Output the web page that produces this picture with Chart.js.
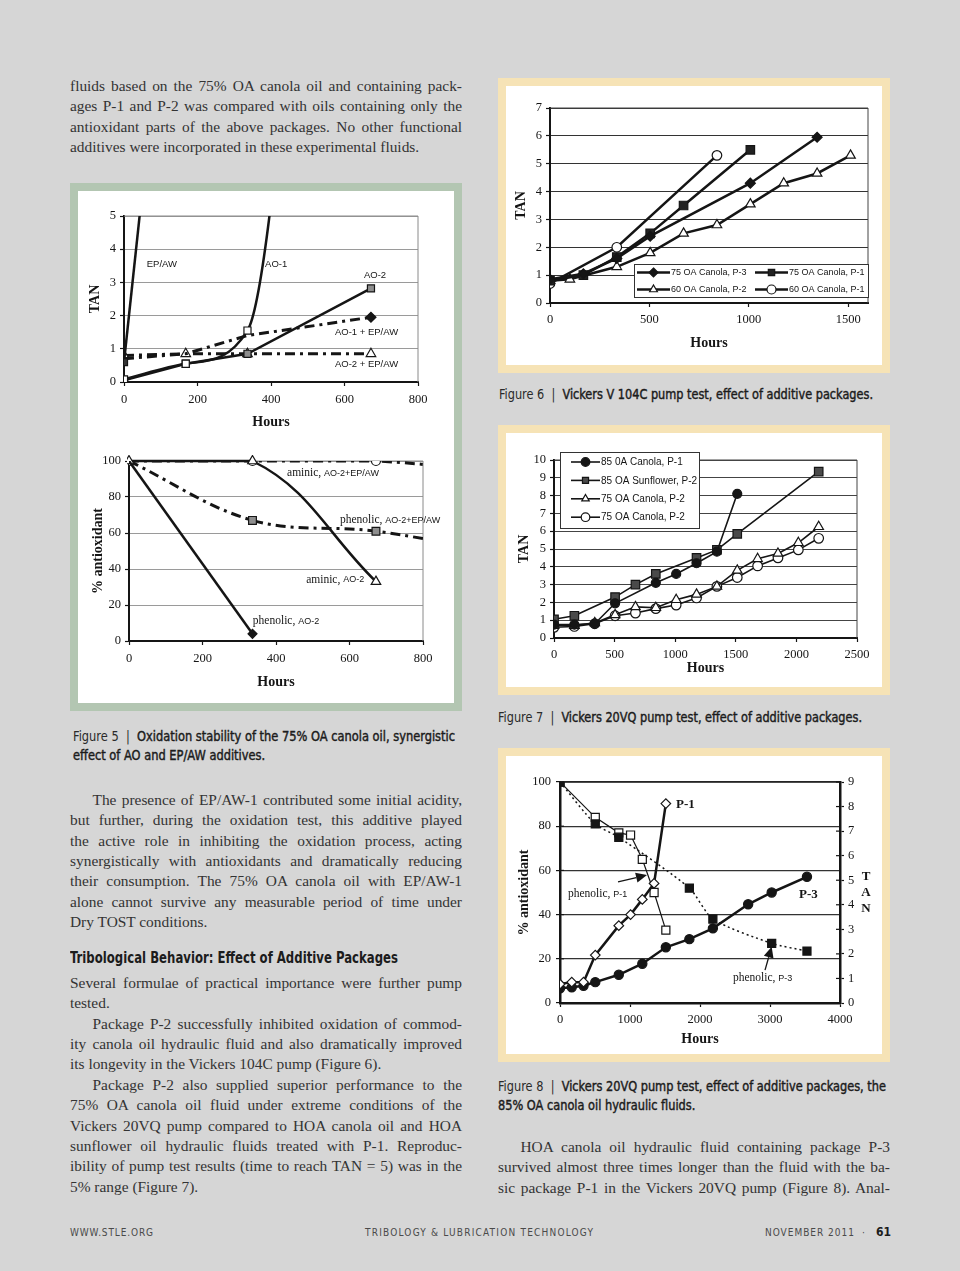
<!DOCTYPE html>
<html lang="en">
<head>
<meta charset="UTF-8">
<meta name="viewport" content="width=960">
<title>TLT November 2011, page 61</title>
<script src="https://cdn.jsdelivr.net/npm/chart.js"></script>
<style>
  body { margin: 0; width: 960px; height: 1271px; position: relative; overflow: hidden; background: #d6d6d6; color: #333; }
  .txt { position: absolute; width: 392px; font-family: "Liberation Serif", "Times New Roman", serif; font-size: 15.4px; }
  .txt div { height: 20.37px; line-height: 20.37px; white-space: nowrap; }
  .txt .in { padding-left: 22.5px; }
  .cap { position: absolute; font-family: "Liberation Sans Narrow", "DejaVu Sans Condensed", "Open Sans", sans-serif; font-size: 14.5px; line-height: 19px; color: #1c1c1c; font-weight: normal; -webkit-text-stroke: 0.45px #1c1c1c; white-space: nowrap; transform-origin: 0 0; }
  .cap span { -webkit-text-stroke: 0; color: #2a2a2a; }
  .head { position: absolute; left: 70px; top: 948px; font-family: "Liberation Sans Narrow", "DejaVu Sans Condensed", sans-serif; font-size: 15.5px; line-height: 20px; font-weight: bold; color: #1c1c1c; white-space: nowrap; transform-origin: 0 0; }
  .box { position: absolute; box-sizing: border-box; background: #fff; border: 8px solid; }
  .green { border-color: #b3c6b2; }
  .cream { border-color: #f6e3b6; }
  canvas { position: absolute; }
  .foot { position: absolute; top: 1226px; line-height: 14px; font-family: "Liberation Sans Narrow", "DejaVu Sans Condensed", sans-serif; font-size: 10px; color: #4a4a4a; white-space: nowrap; }
  .foot b { color: #1c1c1c; font-size: 12px; letter-spacing: 0; }
</style>
</head>
<body>

<div class="txt" style="left:70px; top:76px">
  <div class="j">fluids based on the 75% OA canola oil and containing pack-</div>
  <div class="j">ages P-1 and P-2 was compared with oils containing only the</div>
  <div class="j">antioxidant parts of the above packages. No other functional</div>
  <div>additives were incorporated in these experimental fluids.</div>
</div>

<div class="box green" style="left:70px; top:183px; width:392px; height:528px"></div>
<canvas id="fig5a" width="376" height="250" style="left:78px; top:191px"></canvas>
<canvas id="fig5b" width="376" height="262" style="left:78px; top:441px"></canvas>

<div class="cap" data-w="382" style="left:73px; top:727px"><span>Figure 5 &nbsp;|&nbsp; </span>Oxidation stability of the 75% OA canola oil, synergistic<br>effect of AO and EP/AW additives.</div>

<div class="txt" style="left:70px; top:790px">
  <div class="j in">The presence of EP/AW-1 contributed some initial acidity,</div>
  <div class="j">but further, during the oxidation test, this additive played</div>
  <div class="j">the active role in inhibiting the oxidation process, acting</div>
  <div class="j">synergistically with antioxidants and dramatically reducing</div>
  <div class="j">their consumption. The 75% OA canola oil with EP/AW-1</div>
  <div class="j">alone cannot survive any measurable period of time under</div>
  <div>Dry TOST conditions.</div>
</div>

<div class="head" data-w="328">Tribological Behavior: Effect of Additive Packages</div>

<div class="txt" style="left:70px; top:973px">
  <div class="j">Several formulae of practical importance were further pump</div>
  <div>tested.</div>
  <div class="j in">Package P-2 successfully inhibited oxidation of commod-</div>
  <div class="j">ity canola oil hydraulic fluid and also dramatically improved</div>
  <div>its longevity in the Vickers 104C pump (Figure 6).</div>
  <div class="j in">Package P-2 also supplied superior performance to the</div>
  <div class="j">75% OA canola oil fluid under extreme conditions of the</div>
  <div class="j">Vickers 20VQ pump compared to HOA canola oil and HOA</div>
  <div class="j">sunflower oil hydraulic fluids treated with P-1. Reproduc-</div>
  <div class="j">ibility of pump test results (time to reach TAN = 5) was in the</div>
  <div>5% range (Figure 7).</div>
</div>

<div class="box cream" style="left:498px; top:78px; width:392px; height:295px"></div>
<canvas id="fig6" width="376" height="279" style="left:506px; top:86px"></canvas>
<div class="cap" data-w="374" style="left:499px; top:385px"><span>Figure 6 &nbsp;|&nbsp; </span>Vickers V 104C pump test, effect of additive packages.</div>

<div class="box cream" style="left:498px; top:425px; width:392px; height:270px"></div>
<canvas id="fig7" width="376" height="254" style="left:506px; top:433px"></canvas>
<div class="cap" data-w="364" style="left:498px; top:708px"><span>Figure 7 &nbsp;|&nbsp; </span>Vickers 20VQ pump test, effect of additive packages.</div>

<div class="box cream" style="left:498px; top:748px; width:392px; height:314px"></div>
<canvas id="fig8" width="376" height="298" style="left:506px; top:756px"></canvas>
<div class="cap" data-w="388" style="left:498px; top:1077px"><span>Figure 8 &nbsp;|&nbsp; </span>Vickers 20VQ pump test, effect of additive packages, the<br>85% OA canola oil hydraulic fluids.</div>

<div class="txt" style="left:498px; top:1137px">
  <div class="j in">HOA canola oil hydraulic fluid containing package P-3</div>
  <div class="j">survived almost three times longer than the fluid with the ba-</div>
  <div class="j">sic package P-1 in the Vickers 20VQ pump (Figure 8). Anal-</div>
</div>

<div class="foot" data-ls="83" style="left:70px">WWW.STLE.ORG</div>
<div class="foot" data-ls="228" style="left:365px">TRIBOLOGY &amp; LUBRICATION TECHNOLOGY</div>
<div class="foot" data-ls="89" style="left:765px">NOVEMBER 2011</div>
<div class="foot" style="left:862px">&middot;</div>
<div class="foot" style="left:876px; top:1225px"><b>61</b></div>

<script>
// ---------- Figure 5, top: TAN vs hours ----------
const f5aXTicks = [0, 200, 400, 600, 800];
const f5aYTicks = [0, 1, 2, 3, 4, 5];
const f5aEpAwHours = [0, 168];
const f5aEpAwTan = [0.6, 18];
const f5aAo1Hours = [0, 168, 336, 504];
const f5aAo1Tan = [0.08, 0.55, 1.55, 16];
const f5aAo2Hours = [0, 168, 336, 672];
const f5aAo2Tan = [0.05, 0.55, 0.85, 2.82];
const f5aAo1EpHours = [0, 168, 336, 672];
const f5aAo1EpTan = [0.7, 0.85, 1.4, 1.95];
const f5aAo2EpHours = [0, 168, 336, 672];
const f5aAo2EpTan = [0.8, 0.85, 0.85, 0.85];

// ---------- Figure 5, bottom: % antioxidant vs hours ----------
const f5bXTicks = [0, 200, 400, 600, 800];
const f5bYTicks = [0, 20, 40, 60, 80, 100];
const f5bPhenAo2Hours = [0, 336];
const f5bPhenAo2 = [100, 4];
const f5bAminAo2Hours = [0, 336, 672];
const f5bAminAo2 = [100, 100, 33];
const f5bAminEpHours = [0, 336, 672, 1008];
const f5bAminEp = [100, 100, 100, 94];
const f5bPhenEpHours = [0, 336, 672, 1008];
const f5bPhenEp = [100, 67, 61, 49];

// ---------- Figure 6: Vickers V 104C ----------
const f6XTicks = [0, 500, 1000, 1500];
const f6YTicks = [0, 1, 2, 3, 4, 5, 6, 7];
const f6Labels = ['75 OA Canola, P-3', '75 OA Canola, P-1', '60 OA Canola, P-2', '60 OA Canola, P-1'];
const f6P3Hours = [0, 168, 336, 504, 1008, 1344];
const f6P3Tan = [0.85, 1.05, 1.6, 2.4, 4.3, 5.95];
const f6P1Hours = [0, 168, 336, 504, 672, 1008];
const f6P1Tan = [0.8, 1.0, 1.65, 2.5, 3.5, 5.5];
const f6P2Hours60 = [0, 100, 336, 504, 672, 840, 1008, 1176, 1344, 1512];
const f6P2Tan60 = [0.8, 0.85, 1.3, 1.8, 2.5, 2.8, 3.55, 4.3, 4.65, 5.3];
const f6P1Hours60 = [0, 336, 840];
const f6P1Tan60 = [0.7, 2.0, 5.3];

// ---------- Figure 7: Vickers 20VQ ----------
const f7XTicks = [0, 500, 1000, 1500, 2000, 2500];
const f7YTicks = [0, 1, 2, 3, 4, 5, 6, 7, 8, 9, 10];
const f7Labels = ['85 0A Canola, P-1', '85 OA Sunflower, P-2', '75 OA Canola, P-2', '75 OA Canola, P-2'];
const f7CanP1Hours = [0, 168, 336, 504, 840, 1008, 1176, 1344, 1512];
const f7CanP1Tan = [0.75, 0.75, 0.8, 1.95, 3.1, 3.6, 4.2, 4.85, 8.1];
const f7SunP2Hours = [0, 168, 504, 672, 840, 1176, 1344, 1512, 2184];
const f7SunP2Tan = [1.05, 1.25, 2.3, 3.0, 3.6, 4.5, 4.95, 5.85, 9.35];
const f7CanP2Hours = [0, 168, 336, 504, 672, 840, 1008, 1176, 1344, 1512, 1680, 1848, 2016, 2184];
const f7CanP2aTan = [0.7, 0.7, 0.85, 1.3, 1.75, 1.7, 2.15, 2.45, 2.9, 3.8, 4.45, 4.75, 5.35, 6.25];
const f7CanP2bTan = [0.6, 0.65, 0.8, 1.25, 1.4, 1.65, 1.85, 2.25, 2.9, 3.4, 4.05, 4.5, 4.95, 5.6];

// ---------- Figure 8: 85% OA canola, 20VQ ----------
const f8XTicks = [0, 1000, 2000, 3000, 4000];
const f8PctTicks = [0, 20, 40, 60, 80, 100];
const f8TanTicks = [0, 1, 2, 3, 4, 5, 6, 7, 8, 9];
const f8P1Hours = [0, 168, 336, 504, 840, 1008, 1176, 1344, 1512];
const f8P1Tan = [0.77, 0.85, 0.85, 1.95, 3.15, 3.6, 4.22, 4.87, 8.12];
const f8P3Hours = [0, 168, 336, 504, 840, 1176, 1512, 1848, 2184, 2688, 3024, 3528];
const f8P3Tan = [0.6, 0.64, 0.7, 0.85, 1.15, 1.6, 2.27, 2.6, 3.04, 4.02, 4.5, 5.14];
const f8PhenP1Hours = [0, 504, 840, 1008, 1176, 1344, 1512];
const f8PhenP1 = [100, 84, 77, 76, 65, 50, 33];
const f8PhenP3Hours = [0, 504, 840, 1848, 2184, 3024, 3528];
const f8PhenP3 = [100, 81, 75, 52, 38, 27, 23.5];

// ---------- helpers ----------
const SERIF = "'Liberation Serif', 'Times New Roman', serif";
const SANS = "'Liberation Sans', Arial, sans-serif";
const INK = '#151515';

function pts(hours, values) {
  return hours.map((h, i) => ({ x: h, y: values[i] }));
}

function series(label, hours, values, style) {
  return Object.assign({
    label: label,
    data: pts(hours, values),
    borderColor: INK,
    borderWidth: 2.5,
    pointStyle: 'circle',
    pointRadius: 4.5,
    pointBorderWidth: 1.2,
    pointBorderColor: INK,
    pointBackgroundColor: '#fff',
    tension: 0
  }, style);
}

// o: size (axis box), grid colour, tickPad, titlePad
function axis(position, min, max, ticks, title, o) {
  return {
    type: 'linear',
    position: position,
    min: min,
    max: max,
    afterBuildTicks: s => { s.ticks = ticks.map(v => ({ value: v })); },
    afterFit: s => { if (s.isHorizontal()) s.height = o.size; else s.width = o.size; },
    ticks: {
      color: INK, autoSkip: false, maxRotation: 0,
      padding: o.tickPad,
      font: { family: SERIF, size: o.fs || 12.5 },
      callback: v => String(v)
    },
    border: { color: INK, width: o.bw || 2 },
    grid: {
      drawOnChartArea: !!o.grid,
      color: o.grid || 'rgba(0,0,0,0)',
      lineWidth: o.gw || 1,
      tickLength: 4,
      tickColor: INK,
      tickWidth: 1.2
    },
    title: title ? {
      display: true, text: title, color: INK,
      font: { family: SERIF, size: 14, weight: 'bold' },
      padding: o.titlePad
    } : { display: false }
  };
}

function drawMark(ctx, style, x, y, r, fill, stroke, lw) {
  ctx.save();
  ctx.setLineDash([]);
  ctx.beginPath();
  if (style === 'rect') {
    const s = r * Math.SQRT1_2;
    ctx.rect(x - s, y - s, 2 * s, 2 * s);
  } else if (style === 'rectRot') {
    ctx.moveTo(x, y - r); ctx.lineTo(x + r, y); ctx.lineTo(x, y + r); ctx.lineTo(x - r, y);
    ctx.closePath();
  } else if (style === 'triangle') {
    for (let k = 0; k < 3; k++) {
      const t = k * 2 * Math.PI / 3;
      if (k) ctx.lineTo(x + Math.sin(t) * r, y - Math.cos(t) * r);
      else ctx.moveTo(x + Math.sin(t) * r, y - Math.cos(t) * r);
    }
    ctx.closePath();
  } else {
    ctx.arc(x, y, r, 0, Math.PI * 2);
  }
  ctx.fillStyle = fill; ctx.fill();
  ctx.lineWidth = lw; ctx.strokeStyle = stroke; ctx.stroke();
  ctx.restore();
}

// extra drawing per canvas: plot frame, notes, arrows, boxed legend
const extras = {};

const pagePlugin = {
  id: 'pagePlugin',
  beforeDatasetsDraw(chart) {
    const ex = extras[chart.canvas.id];
    if (!ex) return;
    const { ctx, chartArea: a } = chart;
    ctx.save();
    if (ex.frame) {
      ctx.strokeStyle = ex.frame; ctx.lineWidth = ex.frameW || 1;
      ctx.beginPath();
      ctx.moveTo(a.left, a.top); ctx.lineTo(a.right, a.top);
      if (ex.frameRight !== false) ctx.lineTo(a.right, a.bottom);
      ctx.stroke();
    }
    (ex.crossTicks || []).forEach(id => {
      const s = chart.scales[id];
      ctx.strokeStyle = INK; ctx.lineWidth = 1.2;
      s.ticks.forEach(t => {
        const p = s.getPixelForValue(t.value);
        ctx.beginPath();
        if (s.position === 'left') { ctx.moveTo(a.left, p); ctx.lineTo(a.left + 4, p); }
        else { ctx.moveTo(a.right - 4, p); ctx.lineTo(a.right, p); }
        ctx.stroke();
      });
    });
    ctx.restore();
  },
  afterDatasetsDraw(chart) {
    const ex = extras[chart.canvas.id];
    if (!ex) return;
    const { ctx, chartArea: a } = chart;
    ctx.save();
    ctx.fillStyle = INK;
    ctx.textBaseline = 'middle';
    (ex.notes || []).forEach(n => {
      let x = chart.scales.x.getPixelForValue(n.x);
      const y = chart.scales[n.axis || 'y'].getPixelForValue(n.y);
      n.parts.forEach(p => {
        ctx.font = p[1];
        ctx.fillText(p[0], x, y);
        x += ctx.measureText(p[0]).width;
      });
    });
    (ex.arrows || []).forEach(r => {
      const ys = chart.scales[r.axis || 'y'];
      const x1 = chart.scales.x.getPixelForValue(r.x1), y1 = ys.getPixelForValue(r.y1);
      const x2 = chart.scales.x.getPixelForValue(r.x2), y2 = ys.getPixelForValue(r.y2);
      const ang = Math.atan2(y2 - y1, x2 - x1), L = 11, W = 5;
      const bx = x2 - Math.cos(ang) * L, by = y2 - Math.sin(ang) * L;
      ctx.strokeStyle = INK; ctx.lineWidth = 1.3;
      ctx.beginPath(); ctx.moveTo(x1, y1); ctx.lineTo(bx, by); ctx.stroke();
      ctx.beginPath();
      ctx.moveTo(x2, y2);
      ctx.lineTo(bx + Math.sin(ang) * W, by - Math.cos(ang) * W);
      ctx.lineTo(bx - Math.sin(ang) * W, by + Math.cos(ang) * W);
      ctx.closePath(); ctx.fill();
    });
    if (ex.letters) {
      ctx.font = ex.letters.font; ctx.textAlign = 'center';
      ex.letters.text.forEach((c, i) => ctx.fillText(c, a.right + ex.letters.dx, a.top + ex.letters.dy + i * ex.letters.step));
      ctx.textAlign = 'left';
    }
    const lg = ex.legend;
    if (lg) {
      const bx = lg.anchor === 'br' ? a.right - lg.w - lg.dx : a.left + lg.dx;
      const by = lg.anchor === 'br' ? a.bottom - lg.h - lg.dy : a.top + lg.dy;
      ctx.fillStyle = '#fff'; ctx.fillRect(bx, by, lg.w, lg.h);
      ctx.strokeStyle = '#333'; ctx.lineWidth = 1; ctx.strokeRect(bx + 0.5, by + 0.5, lg.w, lg.h);
      ctx.font = lg.font;
      chart.data.datasets.forEach((ds, i) => {
        const col = i % lg.cols, row = Math.floor(i / lg.cols);
        const x0 = bx + lg.padX + col * lg.colW, y0 = by + lg.padY + row * lg.rowH;
        ctx.strokeStyle = ds.borderColor; ctx.lineWidth = ds.borderWidth;
        ctx.setLineDash(ds.borderDash || []);
        ctx.beginPath(); ctx.moveTo(x0, y0); ctx.lineTo(x0 + lg.lineLen, y0); ctx.stroke();
        ctx.setLineDash([]);
        drawMark(ctx, ds.pointStyle, x0 + lg.lineLen / 2, y0, lg.markR,
          ds.pointBackgroundColor, ds.pointBorderColor, ds.pointBorderWidth);
        ctx.fillStyle = INK;
        ctx.fillText(ds.label, x0 + lg.lineLen + 1, y0 + 0.5);
      });
    }
    ctx.restore();
  }
};
Chart.register(pagePlugin);

function makeChart(id, datasets, scales, pad) {
  return new Chart(document.getElementById(id), {
    type: 'line',
    data: { datasets: datasets },
    options: {
      responsive: false, animation: false, events: [], devicePixelRatio: 1,
      layout: { padding: pad },
      scales: scales,
      plugins: { legend: { display: false }, tooltip: { enabled: false } }
    }
  });
}

const DASH = [10, 5, 3, 5];
const LBL = '9.5px ' + SANS;

// ---------- Figure 5 top ----------
extras.fig5a = {
  frame: '#8a8a8a',
  notes: [
    { x: 62, y: 3.55, parts: [['EP/AW', LBL]] },
    { x: 384, y: 3.55, parts: [['AO-1', LBL]] },
    { x: 653, y: 3.22, parts: [['AO-2', LBL]] },
    { x: 574, y: 1.5, parts: [['AO-1 + EP/AW', LBL]] },
    { x: 574, y: 0.53, parts: [['AO-2 + EP/AW', LBL]] }
  ]
};
makeChart('fig5a', [
  series('AO-1', f5aAo1Hours, f5aAo1Tan, { pointStyle: 'rect', pointRadius: 5, cubicInterpolationMode: 'monotone' }),
  series('AO-2', f5aAo2Hours, f5aAo2Tan, { pointStyle: 'rect', pointRadius: 5, pointBackgroundColor: '#8e8e8e' }),
  series('EP/AW', f5aEpAwHours, f5aEpAwTan, { pointStyle: 'rect', pointRadius: [5, 0], pointBackgroundColor: '#333' }),
  series('AO-1 + EP/AW', f5aAo1EpHours, f5aAo1EpTan, { borderWidth: 3, borderDash: DASH, pointStyle: 'rectRot', pointRadius: [0, 0, 0, 5], pointBackgroundColor: INK }),
  series('AO-2 + EP/AW', f5aAo2EpHours, f5aAo2EpTan, { borderWidth: 3, borderDash: DASH, pointStyle: 'triangle', pointRadius: 5.5 })
], {
  x: axis('bottom', 0, 800, f5aXTicks, 'Hours', { size: 59, tickPad: 6, titlePad: { bottom: 10.6 } }),
  y: axis('left', 0, 5, f5aYTicks, 'TAN', { size: 40, tickPad: 4, titlePad: { top: 2.6 }, grid: '#9a9a9a' })
}, { left: 6, top: 25, right: 36, bottom: 0 });

// ---------- Figure 5 bottom ----------
const NOTE_SERIF = '11.5px ' + SERIF;
const NOTE_SMALL = '9px ' + SANS;
extras.fig5b = {
  frame: '#8a8a8a',
  notes: [
    { x: 430, y: 93.3, parts: [['aminic, ', NOTE_SERIF], ['AO-2+EP/AW', NOTE_SMALL]] },
    { x: 574, y: 67.2, parts: [['phenolic, ', NOTE_SERIF], ['AO-2+EP/AW', NOTE_SMALL]] },
    { x: 482, y: 33.9, parts: [['aminic, ', NOTE_SERIF], ['AO-2', NOTE_SMALL]] },
    { x: 337, y: 11.1, parts: [['phenolic, ', NOTE_SERIF], ['AO-2', NOTE_SMALL]] }
  ]
};
makeChart('fig5b', [
  series('phenolic, AO-2', f5bPhenAo2Hours, f5bPhenAo2, { pointStyle: 'rectRot', pointRadius: [0, 4.5], pointBackgroundColor: INK }),
  series('aminic, AO-2', f5bAminAo2Hours, f5bAminAo2, { pointStyle: 'triangle', pointRadius: 5.5, tension: 0.4, clip: { left: 2, top: 6, right: 2, bottom: 2 } }),
  series('aminic, AO-2+EP/AW', f5bAminEpHours, f5bAminEp, { borderWidth: 3, borderDash: DASH, pointRadius: 4.5, tension: 0.3 }),
  series('phenolic, AO-2+EP/AW', f5bPhenEpHours, f5bPhenEp, { borderWidth: 3, borderDash: DASH, pointStyle: 'rect', pointRadius: 5.5, pointBackgroundColor: '#8e8e8e', tension: 0.35 })
], {
  x: axis('bottom', 0, 800, f5bXTicks, 'Hours', { size: 62, tickPad: 6, titlePad: { bottom: 12.6 } }),
  y: axis('left', 0, 100, f5bYTicks, '% antioxidant', { size: 45, tickPad: 4, titlePad: { top: 5.6 }, grid: '#9a9a9a' })
}, { left: 6, top: 20, right: 31, bottom: 0 });

// ---------- Figure 6 ----------
extras.fig6 = {
  frame: '#444',
  legend: { anchor: 'br', dx: 0, dy: 6, w: 234, h: 33, cols: 2, colW: 118, rowH: 17, padX: 3, padY: 8.5, lineLen: 33, markR: 4.5, font: '9px ' + SANS }
};
makeChart('fig6', [
  series(f6Labels[0], f6P3Hours, f6P3Tan, { pointStyle: 'rectRot', pointRadius: 5, pointBackgroundColor: INK }),
  series(f6Labels[1], f6P1Hours, f6P1Tan, { pointStyle: 'rect', pointRadius: 6, pointBackgroundColor: '#222' }),
  series(f6Labels[2], f6P2Hours60, f6P2Tan60, { pointStyle: 'triangle', pointRadius: 5.5 }),
  series(f6Labels[3], f6P1Hours60, f6P1Tan60, { pointStyle: 'circle', pointRadius: 4.8 })
], {
  x: axis('bottom', 0, 1600, f6XTicks, 'Hours', { size: 62, tickPad: 5, titlePad: { bottom: 13.6 } }),
  y: axis('left', 0, 7, f6YTicks, 'TAN', { size: 40, tickPad: 4, titlePad: { top: 2.6 }, grid: '#333' })
}, { left: 4, top: 22, right: 14, bottom: 0 });

// ---------- Figure 7 ----------
extras.fig7 = {
  frame: '#444',
  legend: { anchor: 'tl', dx: 6, dy: -8, w: 139, h: 76, cols: 1, colW: 0, rowH: 18.4, padX: 11, padY: 10, lineLen: 29, markR: 4.3, font: '10px ' + SANS }
};
makeChart('fig7', [
  series(f7Labels[0], f7CanP1Hours, f7CanP1Tan, { borderWidth: 1.6, pointRadius: 4.5, pointBackgroundColor: INK }),
  series(f7Labels[1], f7SunP2Hours, f7SunP2Tan, { borderWidth: 1.6, pointStyle: 'rect', pointRadius: 6, pointBackgroundColor: '#4a4a4a' }),
  series(f7Labels[2], f7CanP2Hours, f7CanP2aTan, { borderWidth: 1.6, pointStyle: 'triangle', pointRadius: 5.5 }),
  series(f7Labels[3], f7CanP2Hours, f7CanP2bTan, { borderWidth: 1.6, pointRadius: 4.8 })
], {
  x: axis('bottom', 0, 2500, f7XTicks, 'Hours', { size: 49, tickPad: 5, titlePad: { bottom: 10.6 } }),
  y: axis('left', 0, 10, f7YTicks, 'TAN', { size: 44, tickPad: 4, titlePad: { top: 5.6 }, grid: '#444' })
}, { left: 4, top: 27, right: 25, bottom: 0 });

// ---------- Figure 8 ----------
const BOLD_NOTE = 'bold 13px ' + SERIF;
extras.fig8 = {
  frame: '#222', frameRight: false, frameW: 1.3,
  crossTicks: ['y', 'y2'],
  notes: [
    { x: 1657, y: 89.6, parts: [['P-1', BOLD_NOTE]] },
    { x: 3414, y: 48.9, parts: [['P-3', BOLD_NOTE]] },
    { x: 114, y: 49.3, parts: [['phenolic, ', NOTE_SERIF], ['P-1', NOTE_SMALL]] },
    { x: 2471, y: 11.3, parts: [['phenolic, ', NOTE_SERIF], ['P-3', NOTE_SMALL]] }
  ],
  arrows: [
    { x1: 829, y1: 54.8, x2: 1243, y2: 57.9 },
    { x1: 2929, y1: 14.9, x2: 3024, y2: 25.5 }
  ],
  letters: { text: ['T', 'A', 'N'], font: BOLD_NOTE, dx: 26, dy: 95, step: 16 }
};
makeChart('fig8', [
  series('P-1', f8P1Hours, f8P1Tan, { yAxisID: 'y2', pointStyle: 'rectRot', pointRadius: 4.8 }),
  series('P-3', f8P3Hours, f8P3Tan, { yAxisID: 'y2', pointRadius: 4.6, pointBackgroundColor: INK }),
  series('phenolic, P-3', f8PhenP3Hours, f8PhenP3, { borderWidth: 1.5, borderDash: [2, 3], pointStyle: 'rect', pointRadius: 5.7, pointBackgroundColor: INK, tension: 0.25 }),
  series('phenolic, P-1', f8PhenP1Hours, f8PhenP1, { borderWidth: 1.2, pointStyle: 'rect', pointRadius: 5.7 })
], {
  x: axis('bottom', 0, 4000, f8XTicks, 'Hours', { size: 51, tickPad: 5, titlePad: { bottom: 6.6 }, bw: 2.5 }),
  y: axis('left', 0, 100, f8PctTicks, '% antioxidant', { size: 50, tickPad: 5, titlePad: { top: 5.6 }, grid: '#333', gw: 1.2, bw: 2.5 }),
  y2: axis('right', 0, 9, f8TanTicks, '', { size: 42, tickPad: 4, bw: 2.5 })
}, { left: 4, top: 26, right: 0, bottom: 0 });

// ---------- text fitting ----------
document.querySelectorAll('.j').forEach(el => {
  const span = document.createElement('span');
  span.textContent = el.textContent.trim();
  el.textContent = '';
  el.appendChild(span);
  const target = el.clientWidth - parseFloat(getComputedStyle(el).paddingLeft);
  const natural = span.getBoundingClientRect().width;
  const gaps = (span.textContent.match(/ /g) || []).length;
  if (gaps) el.style.wordSpacing = ((target - natural) / gaps) + 'px';
});
document.querySelectorAll('[data-w]').forEach(el => {
  const w = el.getBoundingClientRect().width;
  const target = parseFloat(el.dataset.w);
  el.style.transform = 'scaleX(' + (target / w) + ')';
});
document.querySelectorAll('[data-ls]').forEach(el => {
  const n = el.textContent.length;
  const w = el.getBoundingClientRect().width;
  el.style.letterSpacing = ((parseFloat(el.dataset.ls) - w) / (n - 1)) + 'px';
});
</script>
</body>
</html>
